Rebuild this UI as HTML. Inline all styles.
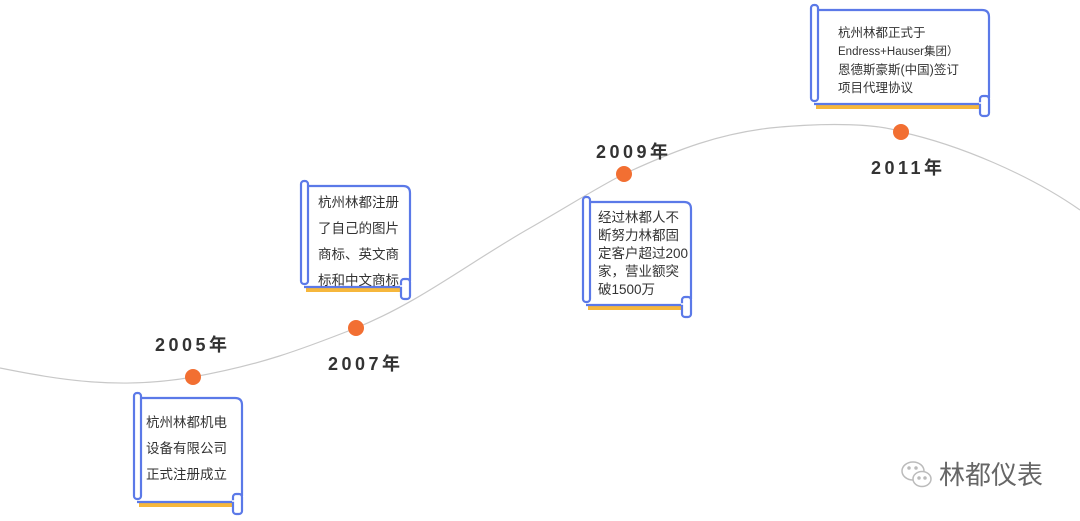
<!DOCTYPE html>
<html><head><meta charset="utf-8"><style>
html,body{margin:0;padding:0;background:#fff;}
#c{position:relative;width:1080px;height:521px;overflow:hidden;font-family:"Liberation Sans","Noto Sans CJK SC",sans-serif;}
.t{position:absolute;color:#333;font-size:13.5px;white-space:nowrap;}
.y{position:absolute;font-weight:bold;font-size:18px;color:#333;letter-spacing:3.5px;}
</style></head><body><div id="c">
<svg id="s" width="1080" height="521" style="position:absolute;left:0;top:0">
<path d="M0,368 C60,380 120,390 193,377 C260,365 300,350 356,328 C420,302 470,262 530,228 C570,205 600,186 624,174 C680,148 720,134 770,128 C830,122 880,124 901,132 C960,145 1030,175 1080,210" fill="none" stroke="#c8c8c8" stroke-width="1.2"/>
<circle cx="193" cy="377" r="8" fill="#f26f32"/>
<circle cx="356" cy="328" r="8" fill="#f26f32"/>
<circle cx="624" cy="174" r="8" fill="#f26f32"/>
<circle cx="901" cy="132" r="8" fill="#f26f32"/>
<g id="cards"></g>
<g transform="translate(902,462)" fill="none" stroke="#bbb" stroke-width="1.5">
<ellipse cx="11" cy="9" rx="11" ry="9"/><ellipse cx="20" cy="17" rx="9" ry="7.5" fill="#fff"/>
<circle cx="17" cy="16" r="1" fill="#bbb"/><circle cx="23" cy="16" r="1" fill="#bbb"/>
<circle cx="7" cy="6" r="1" fill="#bbb"/><circle cx="14" cy="6" r="1" fill="#bbb"/>
</g>
</svg>
<div class="y" style="left:155px;top:331px">2005年</div>
<div class="y" style="left:328px;top:350px">2007年</div>
<div class="y" style="left:596px;top:138px">2009年</div>
<div class="y" style="left:871px;top:154px">2011年</div>

<div class="t" style="left:146px;top:410px;line-height:26px">杭州林都机电<br>设备有限公司<br>正式注册成立</div>
<div class="t" style="left:318px;top:190px;line-height:26px">杭州林都注册<br>了自己的图片<br>商标、英文商<br>标和中文商标</div>
<div class="t" style="left:598px;top:209px;line-height:18px">经过林都人不<br>断努力林都固<br>定客户超过200<br>家，营业额突<br>破1500万</div>
<div class="t" style="left:838px;top:24px;line-height:18px;font-size:12.5px">杭州林都正式于<br><span style="font-size:11.5px">Endress+Hauser集团）</span><br>恩德斯豪斯(中国)签订<br>项目代理协议</div>
<div style="position:absolute;left:939px;top:455px;font-size:26px;color:#666;font-family:'Liberation Sans','Noto Sans CJK SC',sans-serif;">林都仪表</div>
</div>
<script>
var cards=[[133,392,110,124],[300,180,111,121],[582,196,110,123],[810,4,180,114]];
var h='';
cards.forEach(function(c){
 var x=c[0],y=c[1],w=c[2],H=c[3],B=y+H-14;
 h+='<path d="M'+(x+6)+','+(B+2.5)+' L'+(x+w-10)+','+(B+2.5)+'" stroke="#f6b73c" stroke-width="5" fill="none"/>';
 h+='<path d="M'+(x+8)+','+(y+6)+' L'+(x+w-8)+','+(y+6)+' Q'+(x+w-1)+','+(y+6)+' '+(x+w-1)+','+(y+13)+' L'+(x+w-1)+','+(B-6)+'" stroke="#5b79e8" stroke-width="2.2" fill="#fff"/>';
 h+='<path d="M'+(x+4)+','+B+' L'+(x+w-10)+','+B+'" stroke="#5b79e8" stroke-width="2.2" fill="none"/>';
 h+='<rect x="'+(x+1)+'" y="'+(y+1)+'" width="7" height="'+(H-18)+'" rx="3" stroke="#5b79e8" stroke-width="2.2" fill="#fff"/>';
 h+='<rect x="'+(x+w-10)+'" y="'+(B-8)+'" width="9" height="'+(H-(B-y)+6)+'" rx="3" stroke="#5b79e8" stroke-width="2.2" fill="#fff"/>';
 h+='<path d="M'+(x+w-11)+','+(B-1)+' L'+(x+w-4)+','+(B-1)+'" stroke="#fff" stroke-width="1.5"/>';
});
document.getElementById('cards').innerHTML=h;
</script>
</body></html>
